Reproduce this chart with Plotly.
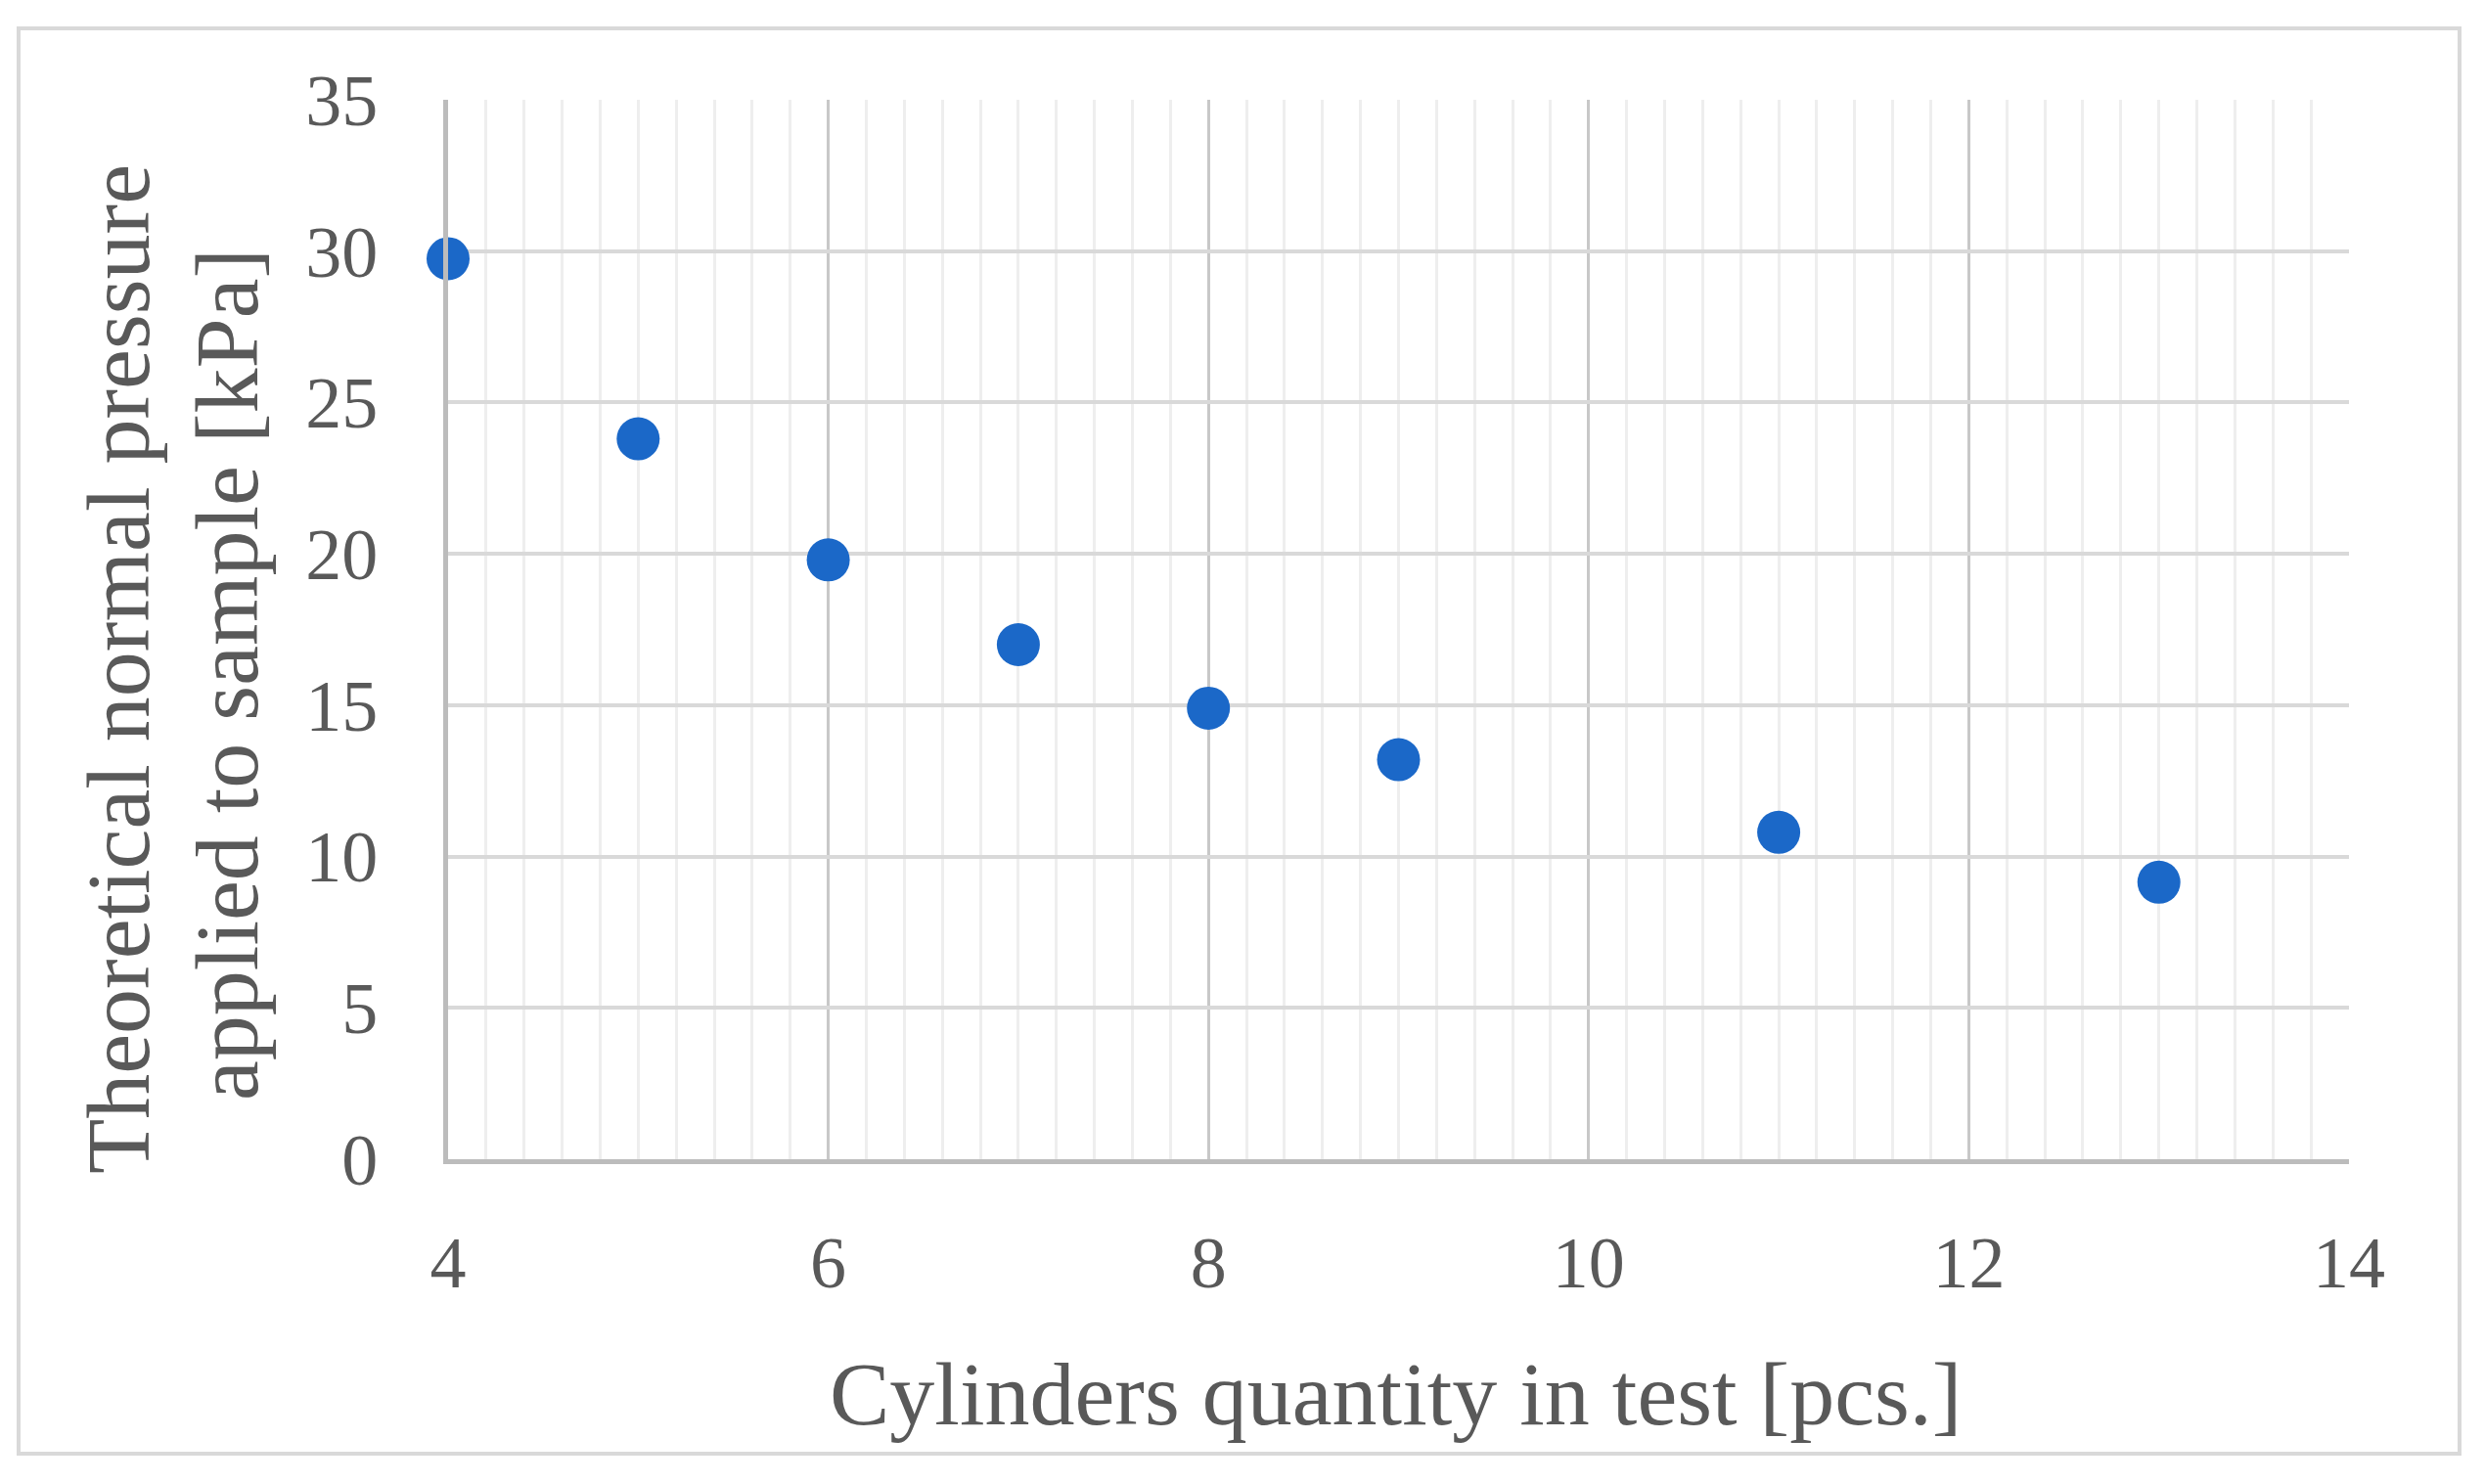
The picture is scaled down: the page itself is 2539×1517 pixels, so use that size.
import plotly.graph_objects as go

cylinders = [4, 5, 6, 7, 8, 9, 11, 13]
pressure_kpa = [29.75, 23.8, 19.8, 17.0, 14.9, 13.2, 10.8, 9.15]
x_ticks = [4, 6, 8, 10, 12, 14]
y_ticks = [0, 5, 10, 15, 20, 25, 30, 35]
x_title = "Cylinders quantity in test [pcs.]"
y_title_lines = ["Theoretical normal pressure", "applied to sample [kPa]"]

W, H = 2539, 1517
L, R, T, B = 458, 2401, 102, 1185
FONT = "Liberation Serif"
TXT = "#595959"

fig = go.Figure()
fig.add_trace(go.Scatter(
    x=cylinders, y=pressure_kpa, mode="markers",
    marker=dict(size=44, color="#1b68c8"),
    cliponaxis=False, showlegend=False,
))

def px2paper_x(px):
    return (px - L) / (R - L)

def px2paper_y(py):
    return (B - py) / (B - T)

fig.update_layout(
    width=W, height=H,
    margin=dict(l=L, r=W - R, t=T, b=H - B),
    paper_bgcolor="white", plot_bgcolor="white",
    font=dict(family=FONT, color=TXT),
    xaxis=dict(
        range=[4, 14], tickvals=x_ticks, ticktext=[str(v) for v in x_ticks],
        showgrid=True, gridcolor="#c8c8c8", gridwidth=3,
        minor=dict(dtick=0.2, showgrid=True, gridcolor="#eeeeee", gridwidth=3),
        showline=True, linecolor="#bcbcbc", linewidth=5,
        zeroline=False, ticks="", ticklabelstandoff=37,
        tickfont=dict(family=FONT, size=74, color=TXT),
    ),
    yaxis=dict(
        range=[0, 35], tickvals=y_ticks, ticktext=[str(v) for v in y_ticks],
        showgrid=True, gridcolor="#d9d9d9", gridwidth=4,
        showline=True, linecolor="#bcbcbc", linewidth=5,
        zeroline=False, ticks="", ticklabelstandoff=52,
        tickfont=dict(family=FONT, size=74, color=TXT),
    ),
    shapes=[dict(
        type="rect", xref="paper", yref="paper",
        x0=px2paper_x(19), x1=px2paper_x(2514),
        y0=px2paper_y(1486), y1=px2paper_y(29),
        line=dict(color="#d9d9d9", width=4), fillcolor="rgba(0,0,0,0)",
        layer="below",
    )],
    annotations=[
        dict(text=x_title, xref="paper", yref="paper",
             x=px2paper_x(1427), y=px2paper_y(1425), showarrow=False,
             xanchor="center", yanchor="middle",
             font=dict(family=FONT, size=92, color=TXT)),
        dict(text=y_title_lines[0], xref="paper", yref="paper",
             x=px2paper_x(121), y=px2paper_y(684), showarrow=False,
             textangle=-90, xanchor="center", yanchor="middle",
             font=dict(family=FONT, size=92, color=TXT)),
        dict(text=y_title_lines[1], xref="paper", yref="paper",
             x=px2paper_x(232), y=px2paper_y(690), showarrow=False,
             textangle=-90, xanchor="center", yanchor="middle",
             font=dict(family=FONT, size=92, color=TXT)),
    ],
)

fig.write_html("out.html", config={"displayModeBar": False},
               post_script="document.body.style.margin='0px';")
